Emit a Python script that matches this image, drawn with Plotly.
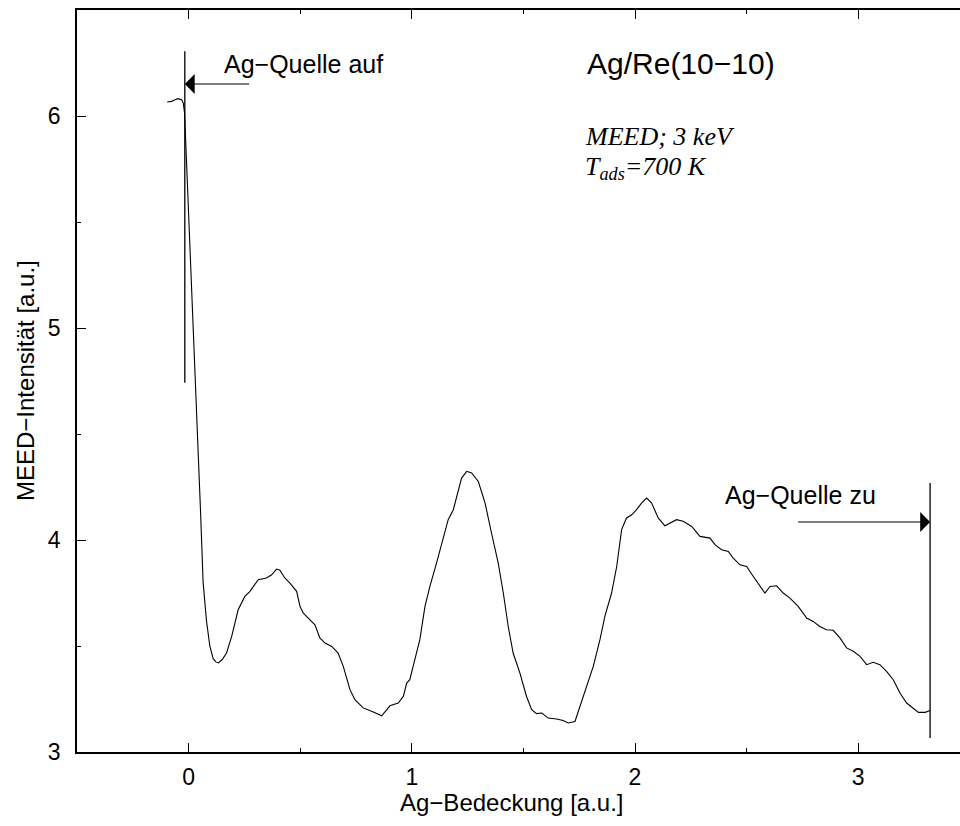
import plotly.graph_objects as go

# Curve: Ag coverage (a.u.) vs MEED intensity (a.u.)
coverage = [-0.096, -0.076, -0.061, -0.047, -0.031, -0.024, -0.018, -0.012, -0.006, 0.001,
            0.015, 0.030, 0.045, 0.054, 0.065, 0.080, 0.095, 0.110, 0.122, 0.133, 0.150,
            0.170, 0.193, 0.222, 0.252, 0.275, 0.312, 0.349, 0.372, 0.394, 0.409, 0.431,
            0.454, 0.484, 0.499, 0.513, 0.536, 0.566, 0.588, 0.611, 0.641, 0.670, 0.693,
            0.723, 0.745, 0.782, 0.820, 0.865, 0.902, 0.939, 0.962, 0.977, 0.991, 1.014,
            1.036, 1.059, 1.081, 1.111, 1.141, 1.163, 1.186, 1.201, 1.223, 1.246, 1.268,
            1.298, 1.328, 1.357, 1.387, 1.410, 1.432, 1.454, 1.484, 1.514, 1.537, 1.559,
            1.582, 1.611, 1.649, 1.678, 1.701, 1.731, 1.753, 1.783, 1.813, 1.843, 1.865,
            1.895, 1.918, 1.940, 1.962, 1.985, 2.007, 2.030, 2.052, 2.074, 2.104, 2.134,
            2.156, 2.186, 2.216, 2.254, 2.291, 2.336, 2.358, 2.388, 2.418, 2.440, 2.470,
            2.500, 2.530, 2.560, 2.582, 2.605, 2.634, 2.664, 2.694, 2.731, 2.769, 2.798,
            2.828, 2.858, 2.888, 2.918, 2.948, 2.978, 3.008, 3.038, 3.067, 3.097, 3.127,
            3.157, 3.187, 3.217, 3.247, 3.270, 3.300, 3.322]
intensity = [6.066, 6.069, 6.077, 6.082, 6.077, 6.061, 6.014, 5.857, 5.700, 5.560,
             5.200, 4.800, 4.380, 4.120, 3.800, 3.620, 3.500, 3.440, 3.425, 3.420, 3.435,
             3.467, 3.545, 3.671, 3.734, 3.758, 3.813, 3.821, 3.836, 3.863, 3.857, 3.821,
             3.797, 3.758, 3.687, 3.656, 3.632, 3.600, 3.538, 3.514, 3.498, 3.467, 3.404,
             3.294, 3.247, 3.208, 3.192, 3.171, 3.218, 3.231, 3.262, 3.325, 3.341, 3.435,
             3.530, 3.687, 3.781, 3.892, 4.017, 4.096, 4.143, 4.206, 4.292, 4.324, 4.316,
             4.276, 4.175, 4.033, 3.892, 3.750, 3.592, 3.467, 3.373, 3.262, 3.200, 3.181,
             3.184, 3.160, 3.156, 3.149, 3.137, 3.144, 3.215, 3.309, 3.404, 3.530, 3.640,
             3.750, 3.875, 4.049, 4.104, 4.119, 4.143, 4.175, 4.198, 4.175, 4.104, 4.067,
             4.080, 4.096, 4.088, 4.064, 4.017, 4.009, 3.978, 3.954, 3.946, 3.915, 3.883,
             3.875, 3.828, 3.781, 3.750, 3.781, 3.784, 3.750, 3.726, 3.687, 3.632, 3.616,
             3.592, 3.577, 3.574, 3.538, 3.491, 3.475, 3.451, 3.412, 3.423, 3.412, 3.380,
             3.341, 3.278, 3.231, 3.208, 3.187, 3.187, 3.196]

# Markers: source open / closed
open_x = -0.017
open_y = [4.742, 6.305]
open_arrow_y = 6.151
open_arrow_tail_x = 0.278
close_x = 3.322
close_y = [3.066, 4.269]
close_arrow_y = 4.085
close_arrow_tail_x = 2.724

x_range = [-0.5, 3.456]
y_range = [3, 6.5]

fig = go.Figure()
fig.add_trace(go.Scatter(x=coverage, y=intensity, mode="lines",
                         line=dict(color="black", width=1.1), showlegend=False))
fig.add_trace(go.Scatter(x=[open_x, open_x], y=open_y, mode="lines",
                         line=dict(color="black", width=1.3), showlegend=False))
fig.add_trace(go.Scatter(x=[close_x, close_x], y=close_y, mode="lines",
                         line=dict(color="black", width=1.3), showlegend=False))

sans = "Liberation Sans, Arial, Helvetica, sans-serif"
serif = "Liberation Serif, Times New Roman, serif"

annotations = [
    dict(x=open_x, y=open_arrow_y, ax=open_arrow_tail_x, ay=open_arrow_y,
         xref="x", yref="y", axref="x", ayref="y", text="", showarrow=True,
         arrowhead=1, arrowsize=3.0, arrowwidth=1.1, arrowcolor="black"),
    dict(x=close_x, y=close_arrow_y, ax=close_arrow_tail_x, ay=close_arrow_y,
         xref="x", yref="y", axref="x", ayref="y", text="", showarrow=True,
         arrowhead=1, arrowsize=3.0, arrowwidth=1.1, arrowcolor="black"),
    dict(x=0.15, y=6.247, xref="x", yref="y", text="Ag−Quelle auf", showarrow=False,
         xanchor="left", yanchor="middle", font=dict(family=sans, size=25, color="black")),
    dict(x=2.392, y=4.211, xref="x", yref="y", text="Ag−Quelle zu", showarrow=False,
         xanchor="left", yanchor="middle", font=dict(family=sans, size=25, color="black")),
    dict(x=1.776, y=6.249, xref="x", yref="y", text="Ag/Re(10−10)", showarrow=False,
         xanchor="left", yanchor="middle", font=dict(family=sans, size=30, color="black")),
    dict(x=1.768, y=5.905, xref="x", yref="y", text="<i>MEED; 3 keV</i>", showarrow=False,
         xanchor="left", yanchor="middle", font=dict(family=serif, size=26, color="black")),
    dict(x=1.768, y=5.755, xref="x", yref="y", text="<i>T<sub>ads</sub>=700 K</i>",
         showarrow=False, xanchor="left", yanchor="middle",
         font=dict(family=serif, size=26, color="black")),
    # axis titles
    dict(x=(512 - 77) / 883, y=-0.068, xref="paper", yref="paper",
         text="Ag−Bedeckung [a.u.]", showarrow=False, xanchor="center", yanchor="middle",
         font=dict(family=sans, size=24, color="black")),
    dict(x=(25 - 77) / 883, y=0.5, xref="paper", yref="paper", textangle=-90,
         text="MEED−Intensität [a.u.]", showarrow=False, xanchor="center", yanchor="middle",
         font=dict(family=sans, size=24, color="black")),
]

axis_common = dict(
    showgrid=False, zeroline=False, showline=True, linecolor="black", linewidth=1.5,
    ticks="inside", ticklen=9, tickwidth=1.3, tickcolor="black",
    tickfont=dict(family=sans, size=23, color="black"),
)

fig.update_layout(
    width=960, height=826,
    margin=dict(l=77, r=0, t=10, b=74),
    paper_bgcolor="white", plot_bgcolor="white",
    xaxis=dict(range=x_range, dtick=1, tick0=0, mirror="allticks", ticklabelstandoff=4,
               minor=dict(dtick=0.5, ticks="inside", ticklen=4, tickcolor="black", tickwidth=1.2),
               **axis_common),
    yaxis=dict(range=y_range, dtick=1, tick0=3, mirror=False, ticklabelstandoff=10,
               minor=dict(dtick=0.5, ticks="inside", ticklen=4, tickcolor="black", tickwidth=1.2),
               **axis_common),
    annotations=annotations,
)

fig.write_html("out.html")
